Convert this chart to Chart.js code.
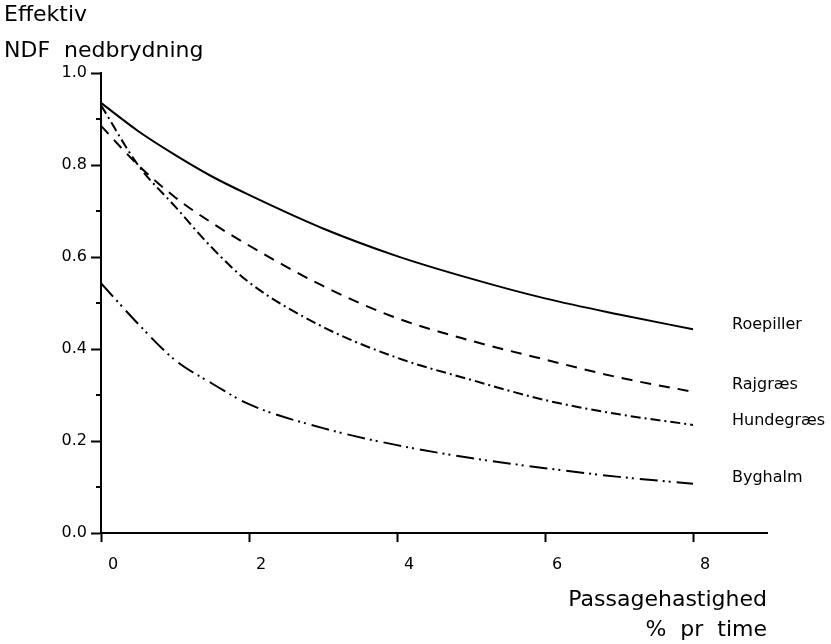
<!DOCTYPE html>
<html>
<head>
<meta charset="utf-8">
<script src="https://cdn.jsdelivr.net/npm/chart.js@4.4.1/dist/chart.umd.min.js"></script>
<style>
  html, body { margin: 0; padding: 0; background: #fff; }
  #wrap { width: 831px; height: 644px; }
</style>
</head>
<body>
<div id="wrap"><canvas id="chart" width="831" height="644"></canvas></div>
<script>
// passage rate (% per hour)
const rates = [0, 0.5, 1, 1.5, 2, 3, 4, 5, 6, 7, 8];

// effective NDF degradation
const roepiller = [0.935, 0.874, 0.822, 0.775, 0.735, 0.662, 0.602, 0.553, 0.510, 0.475, 0.443];
const rajgraes  = [0.885, 0.800, 0.730, 0.674, 0.625, 0.537, 0.467, 0.418, 0.377, 0.338, 0.307];
const hundegraes = [0.930, 0.800, 0.710, 0.620, 0.545, 0.448, 0.381, 0.333, 0.289, 0.258, 0.235];
const byghalm   = [0.543, 0.455, 0.376, 0.325, 0.280, 0.228, 0.191, 0.163, 0.141, 0.122, 0.107];

const seriesNames = ['Roepiller', 'Rajgræs', 'Hundegræs', 'Byghalm'];
const xTicks = [0, 2, 4, 6, 8];
const yTicks = [0, 0.2, 0.4, 0.6, 0.8, 1.0];
const yMinorTicks = [0.1, 0.3, 0.5, 0.7, 0.9];

const FONT = '"DejaVu Sans", sans-serif';

function toPoints(values) {
  return values.map((v, i) => ({ x: rates[i], y: v }));
}

// where the curve names sit (data units)
const nameAnchors = [0.452, 0.322, 0.243, 0.120];

const textPlugin = {
  id: 'textPlugin',
  afterDraw(chart) {
    const ctx = chart.ctx;
    const xs = chart.scales.x;
    const ys = chart.scales.y;
    ctx.save();
    ctx.fillStyle = '#000';
    ctx.strokeStyle = '#000';

    // minor ticks on the y axis
    ctx.lineWidth = 2;
    yMinorTicks.forEach(v => {
      const py = ys.getPixelForValue(v);
      ctx.beginPath();
      ctx.moveTo(xs.left - 5, py);
      ctx.lineTo(xs.left, py);
      ctx.stroke();
    });

    // y axis title, top left
    ctx.font = '22px ' + FONT;
    ctx.textAlign = 'left';
    ctx.textBaseline = 'middle';
    ctx.fillText('Effektiv', 4, 15);
    ctx.fillText('NDF  nedbrydning', 4, 51);

    // x axis title, bottom right
    ctx.textAlign = 'right';
    ctx.fillText('Passagehastighed', xs.right, 600);
    ctx.fillText('%  pr  time', xs.right, 630);

    // curve names
    ctx.font = '16px ' + FONT;
    ctx.textAlign = 'left';
    seriesNames.forEach((name, i) => {
      ctx.fillText(name, xs.getPixelForValue(8) + 39, ys.getPixelForValue(nameAnchors[i]));
    });
    ctx.restore();
  }
};

const lineStyle = {
  borderColor: '#000',
  borderWidth: 2,
  pointRadius: 0,
  fill: false,
  cubicInterpolationMode: 'monotone'
};

new Chart(document.getElementById('chart').getContext('2d'), {
  type: 'line',
  data: {
    datasets: [
      { ...lineStyle, label: seriesNames[0], data: toPoints(roepiller) },
      { ...lineStyle, label: seriesNames[1], data: toPoints(rajgraes), borderDash: [11, 8] },
      { ...lineStyle, label: seriesNames[2], data: toPoints(hundegraes), borderDash: [10, 4, 2, 4] },
      { ...lineStyle, label: seriesNames[3], data: toPoints(byghalm), borderDash: [18, 5, 2, 4, 2, 6] }
    ]
  },
  options: {
    responsive: false,
    animation: false,
    layout: { padding: { left: 0, right: 64, top: 73, bottom: 0 } },
    plugins: {
      legend: { display: false },
      tooltip: { enabled: false },
      title: { display: false }
    },
    scales: {
      x: {
        type: 'linear',
        min: 0,
        max: 9,
        afterFit(scale) { scale.height = 111; },
        afterBuildTicks(scale) { scale.ticks = xTicks.map(v => ({ value: v })); },
        border: { display: true, color: '#000', width: 2 },
        grid: { drawOnChartArea: false, drawTicks: true, tickLength: 9, color: '#000', tickWidth: 2 },
        ticks: {
          color: '#000',
          font: { family: FONT, size: 16 },
          padding: 13,
          labelOffset: 12,
          maxRotation: 0,
          callback: v => String(v)
        }
      },
      y: {
        min: 0,
        max: 1,
        afterFit(scale) { scale.width = 101; },
        afterBuildTicks(scale) { scale.ticks = yTicks.map(v => ({ value: v })); },
        border: { display: true, color: '#000', width: 2 },
        grid: { drawOnChartArea: false, drawTicks: true, tickLength: 10, color: '#000', tickWidth: 2 },
        ticks: {
          color: '#000',
          font: { family: FONT, size: 16 },
          padding: 4,
          callback: v => v.toFixed(1)
        }
      }
    }
  },
  plugins: [textPlugin]
});
</script>
</body>
</html>
